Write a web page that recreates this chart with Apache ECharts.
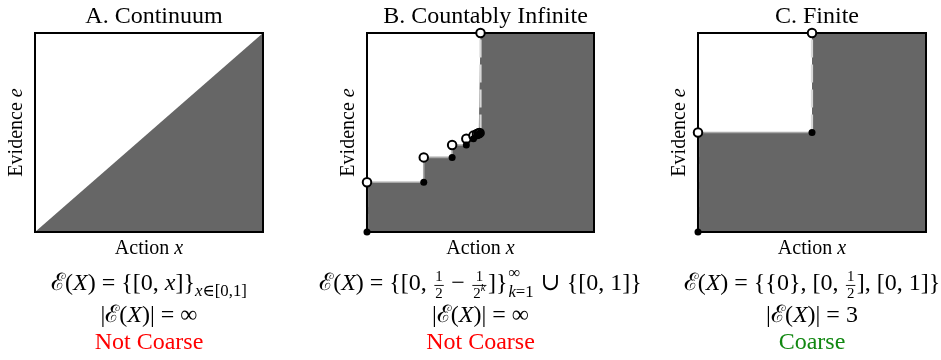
<!DOCTYPE html>
<html lang="en">
<head>
    <meta charset="UTF-8">
    <title>Coarseness</title>
    <script src="https://cdn.jsdelivr.net/npm/echarts@6/dist/echarts.min.js"></script>
    <style>
        html, body { margin: 0; padding: 0; background: #fff; }
        #chart { width: 941px; height: 360px; }
    </style>
</head>
<body>
    <div id="chart"></div>
    <script>
        // 数据
        var panelTitles = ['A. Continuum', 'B. Countably Infinite', 'C. Finite'];
        var verdicts = ['Not Coarse', 'Not Coarse', 'Coarse'];
        // A: 对角线
        var diagX = [0, 1];
        var diagE = [0, 1];
        // B: 台阶 x_k = 1/2 - 1/2^k, 上界 e
        var actionsB = [0, 0.25, 0.375, 0.4375, 0.46875, 0.484375, 0.4921875, 0.49609375, 0.5];
        var evidenceB = [0.25, 0.375, 0.4375, 0.46875, 0.484375, 0.4921875, 0.49609375, 0.498046875, 1];
        // C: 有限
        var actionsC = [0, 0.5];
        var evidenceC = [0.5, 1];

        var SERIF = "'Liberation Serif', 'DejaVu Serif', serif";
        var FILL = '#666666';
        var EDGE = '#a8a8a8';
        var DASH = '#d8d8d8';

        var grids = [
            { left: 35, top: 33, width: 228, height: 199 },
            { left: 367, top: 33, width: 227, height: 199 },
            { left: 698, top: 33, width: 228, height: 199 }
        ];
        var centers = [149, 480.5, 812];

        // 台阶边界
        function stepLine(xs, es) {
            var pts = [];
            for (var i = 0; i < xs.length; i++) {
                var next = i + 1 < xs.length ? xs[i + 1] : 1;
                pts.push([xs[i], es[i]]);
                pts.push([next, es[i]]);
            }
            return pts;
        }

        function stepSeries(idx, xs, es) {
            var pts = stepLine(xs, es);
            var last = xs.length - 1;
            var edge = pts.slice(0, pts.length - 2);
            var closed = xs.map(function (x) { return [x, x]; });
            var open = xs.map(function (x, i) { return [x, es[i]]; });
            return [
                { type: 'line', xAxisIndex: idx, yAxisIndex: idx, data: pts, symbol: 'none',
                  lineStyle: { width: 0 }, areaStyle: { color: FILL, opacity: 1 }, z: 2, silent: true },
                { type: 'line', xAxisIndex: idx, yAxisIndex: idx, data: edge, symbol: 'none',
                  lineStyle: { width: 1.6, color: EDGE }, z: 3, silent: true },
                { type: 'line', xAxisIndex: idx, yAxisIndex: idx, data: [[xs[last], xs[last]], [xs[last], 1]], symbol: 'none',
                  lineStyle: { width: 2.2, color: DASH, type: [18, 7] }, z: 3, silent: true },
                { type: 'line', xAxisIndex: idx, yAxisIndex: idx, data: [[0, 0], [0, es[0]]], symbol: 'none',
                  lineStyle: { width: 2.2, color: DASH, type: [18, 7] }, z: 3, silent: true },
                { type: 'scatter', xAxisIndex: idx, yAxisIndex: idx, data: open, symbol: 'circle', symbolSize: 8.5,
                  itemStyle: { color: '#fff', borderColor: '#000', borderWidth: 2, opacity: 1 }, z: 10, clip: false, silent: true },
                { type: 'scatter', xAxisIndex: idx, yAxisIndex: idx, data: closed, symbol: 'circle', symbolSize: 7,
                  itemStyle: { color: '#000', opacity: 1 }, z: 11, clip: false, silent: true }
            ];
        }

        // 公式排版
        var ctx = document.createElement('canvas').getContext('2d');
        function measure(text, size, italic) {
            ctx.font = (italic ? 'italic ' : '') + size + 'px ' + SERIF;
            return ctx.measureText(text).width;
        }
        function layout(parts, size) {
            var items = [], bars = [], cur = 0;
            function shift(sub, dx, dy) {
                sub.items.forEach(function (it) { items.push({ text: it.text, italic: it.italic, size: it.size, x: it.x + dx, dy: it.dy + dy }); });
                sub.bars.forEach(function (b) { bars.push({ x: b.x + dx, w: b.w, dy: b.dy + dy }); });
            }
            parts.forEach(function (p) {
                if (p.t !== undefined || p.i !== undefined) {
                    var txt = p.t !== undefined ? p.t : p.i;
                    var w = measure(txt, size, p.i !== undefined);
                    items.push({ text: txt, italic: p.i !== undefined, size: size, x: cur, dy: 0 });
                    cur += w;
                } else if (p.sub) {
                    var s = layout(p.sub, size * 0.7);
                    shift(s, cur, size * 0.33);
                    cur += s.w;
                } else if (p.sup) {
                    var s2 = layout(p.sup, size * 0.7);
                    shift(s2, cur, -size * 0.4);
                    cur += s2.w;
                } else if (p.subsup) {
                    var up = layout(p.subsup[0], size * 0.7);
                    var dn = layout(p.subsup[1], size * 0.7);
                    shift(up, cur + 1, -size * 0.42);
                    shift(dn, cur + 1, size * 0.36);
                    cur += Math.max(up.w, dn.w) + 2;
                } else if (p.frac) {
                    var fs = size * 0.62;
                    var num = layout(p.frac[0], fs);
                    var den = layout(p.frac[1], fs);
                    var fw = Math.max(num.w, den.w) + 2;
                    cur += 1.5;
                    shift(num, cur + (fw - num.w) / 2, -size * 0.3);
                    shift(den, cur + (fw - den.w) / 2, size * 0.42);
                    bars.push({ x: cur, w: fw, dy: size * 0.06 });
                    cur += fw + 1.5;
                }
            });
            return { w: cur, items: items, bars: bars };
        }
        function formula(cx, cy, parts, size, color) {
            var l = layout(parts, size);
            var x0 = cx - l.w / 2;
            var els = l.items.map(function (it) {
                return { type: 'text', x: x0 + it.x, y: cy + it.dy, z: 20, silent: true,
                    style: { text: it.text, fontSize: it.size, fontFamily: SERIF, fontStyle: it.italic ? 'italic' : 'normal',
                        fill: color || '#000', align: 'left', verticalAlign: 'middle' } };
            });
            l.bars.forEach(function (b) {
                els.push({ type: 'line', z: 20, silent: true, shape: { x1: x0 + b.x, y1: cy + b.dy, x2: x0 + b.x + b.w, y2: cy + b.dy },
                    style: { stroke: color || '#000', lineWidth: 0.9 } });
            });
            return els;
        }

        var EQ = { t: ' = ' };
        var setA = [{ t: 'ℰ(' }, { i: 'X' }, { t: ')' }, EQ, { t: '{[0, ' }, { i: 'x' }, { t: ']}' },
            { sub: [{ i: 'x' }, { t: '∈[0,1]' }] }];
        var setB = [{ t: 'ℰ(' }, { i: 'X' }, { t: ')' }, EQ, { t: '{[0, ' }, { frac: [[{ t: '1' }], [{ t: '2' }]] },
            { t: ' − ' }, { frac: [[{ t: '1' }], [{ t: '2' }, { sup: [{ i: 'k' }] }]] }, { t: ']}' },
            { subsup: [[{ t: '∞' }], [{ i: 'k' }, { t: '=1' }]] }, { t: ' ∪ {[0, 1]}' }];
        var setC = [{ t: 'ℰ(' }, { i: 'X' }, { t: ')' }, EQ, { t: '{{0}, [0, ' }, { frac: [[{ t: '1' }], [{ t: '2' }]] },
            { t: '], [0, 1]}' }];
        var countInf = [{ t: '|ℰ(' }, { i: 'X' }, { t: ')|' }, EQ, { t: '∞' }];
        var count3 = [{ t: '|ℰ(' }, { i: 'X' }, { t: ')|' }, EQ, { t: '3' }];

        var graphics = [];
        grids.forEach(function (g) {
            graphics.push({ type: 'rect', z: 5, silent: true, shape: { x: g.left, y: g.top, width: g.width, height: g.height },
                style: { fill: 'none', stroke: '#000', lineWidth: 2 } });
        });
        var FS = 24;
        graphics = graphics
            .concat(formula(centers[0], 284, setA, FS))
            .concat(formula(centers[1], 284, setB, FS))
            .concat(formula(centers[2], 284, setC, FS))
            .concat(formula(centers[0], 316, countInf, FS))
            .concat(formula(centers[1], 316, countInf, FS))
            .concat(formula(centers[2], 316, count3, FS))
            .concat(formula(centers[0], 343, [{ t: verdicts[0] }], FS, '#ff0000'))
            .concat(formula(centers[1], 343, [{ t: verdicts[1] }], FS, '#ff0000'))
            .concat(formula(centers[2], 343, [{ t: verdicts[2] }], FS, '#118811'));

        var axisRich = {
            n: { fontFamily: SERIF, fontSize: 20, color: '#000' },
            i: { fontFamily: SERIF, fontSize: 20, fontStyle: 'italic', color: '#000' }
        };
        function xAxisOf(i) {
            return { gridIndex: i, type: 'value', min: 0, max: 1, name: '{n|Action }{i|x}', nameLocation: 'middle', nameGap: 7,
                nameTextStyle: { rich: axisRich }, axisLine: { show: false }, axisTick: { show: false },
                axisLabel: { show: false }, splitLine: { show: false } };
        }
        function yAxisOf(i) {
            return { gridIndex: i, type: 'value', min: 0, max: 1, name: '{n|Evidence }{i|e}', nameLocation: 'middle', nameGap: 8,
                nameTextStyle: { rich: axisRich }, axisLine: { show: false }, axisTick: { show: false },
                axisLabel: { show: false }, splitLine: { show: false } };
        }

        var chart = echarts.init(document.getElementById('chart'));
        chart.setOption({
            animation: false,
            title: panelTitles.map(function (t, i) {
                return { text: t, left: centers[i], top: 0, textAlign: 'center',
                    textStyle: { fontFamily: SERIF, fontSize: 24, fontWeight: 'normal', color: '#000' } };
            }),
            grid: grids,
            xAxis: [xAxisOf(0), xAxisOf(1), xAxisOf(2)],
            yAxis: [yAxisOf(0), yAxisOf(1), yAxisOf(2)],
            series: [
                { type: 'line', xAxisIndex: 0, yAxisIndex: 0, symbol: 'none', silent: true,
                  data: diagX.map(function (x, i) { return [x, diagE[i]]; }),
                  lineStyle: { width: 0 }, areaStyle: { color: FILL, opacity: 1 } }
            ].concat(stepSeries(1, actionsB, evidenceB)).concat(stepSeries(2, actionsC, evidenceC)),
            graphic: graphics
        });
    </script>
</body>
</html>
